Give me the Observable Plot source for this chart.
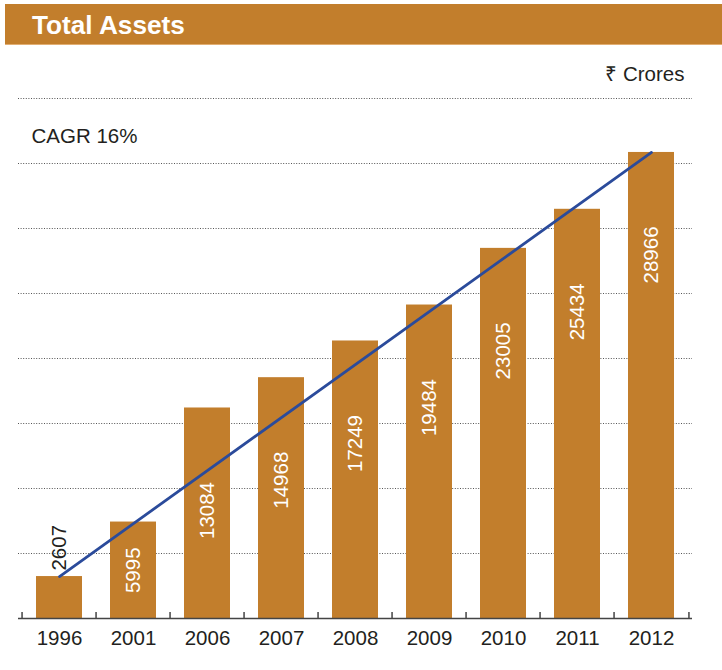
<!DOCTYPE html>
<html><head><meta charset="utf-8">
<script src="https://cdn.jsdelivr.net/npm/d3@7"></script>
<script src="https://cdn.jsdelivr.net/npm/@observablehq/plot@0.6"></script>
<style>
body{margin:0;background:#fff;font-family:"Liberation Sans",Arial,Helvetica,sans-serif;}
#wrap{position:relative;width:722px;height:670px;overflow:hidden;background:#fff;}
#hdr{position:absolute;left:5px;top:4px;width:717px;height:41px;background:#C27E2C;border-bottom:1px solid #E2AE72;box-sizing:border-box;color:#fff;font-weight:bold;font-size:26.2px;line-height:42px;padding-left:27px;overflow:hidden;}
#side{position:absolute;left:5px;top:44px;width:2px;height:626px;background:#E2AE72;}
#chart{position:absolute;left:0;top:45px;}
</style></head><body>
<div id="wrap"><div id="hdr">Total Assets</div><div id="side"></div><div id="chart"></div></div>
<script>
const years = ["1996","2001","2006","2007","2008","2009","2010","2011","2012"];
const values = [2607, 5995, 13084, 14968, 17249, 19484, 23005, 25434, 28966];
const trendYears = ["1996","2012"];
const trendValues = [2607, 28966];
const gridValues = [4040, 8080, 12120, 16160, 20200, 24240, 28280, 32320];
const unitLabel = "₹ Crores";
const cagrLabel = "CAGR 16%";

const table = years.map((y, i) => ({year: y, value: values[i]}));
const trend = trendYears.map((y, i) => ({year: y, value: trendValues[i]}));

const W = 722, H = 625, ML = 18, MR = 30, MT = 53, MB = 52;
const padIn = 0.373;
const step = (W - ML - MR) / years.length;
const barColor = "#C27E2C";
const dark = "#231F20";

const chart = Plot.plot({
  width: W, height: H,
  marginLeft: ML, marginRight: MR, marginTop: MT, marginBottom: MB,
  style: {fontFamily: '"Liberation Sans", Arial, Helvetica, sans-serif', color: dark, background: "#fff"},
  x: {type: "band", domain: years, paddingInner: padIn, paddingOuter: padIn / 2, label: null},
  y: {domain: [0, 32320], axis: null},
  marks: [
    Plot.ruleY(gridValues, {stroke: "#555", strokeWidth: 1, strokeDasharray: "1,1.6"}),
    Plot.barY(table, {x: "year", y: "value", fill: barColor}),
    Plot.ruleY([0], {stroke: "#444", strokeWidth: 1.5}),
    Plot.ruleX(years, {x: d => d, y1: 0, y2: 380, dx: -step / 2, stroke: "#444", strokeWidth: 1.5}),
    Plot.ruleX([years[years.length - 1]], {x: d => d, y1: 0, y2: 380, dx: step / 2, stroke: "#444", strokeWidth: 1.5}),
    Plot.axisX({tickSize: 0, tickPadding: 12, fontSize: 20.5, label: null}),
    Plot.line(trend, {x: "year", y: "value", stroke: "#2B4B9B", strokeWidth: 2.8}),
    Plot.text(table.filter(d => d.value >= 10000), {x: "year", y: "value", text: d => String(d.value), rotate: -90, textAnchor: "end", dy: 74, fill: "white", fontSize: 20.5}),
    Plot.text(table.filter(d => d.value >= 4000 && d.value < 10000), {x: "year", y: d => d.value / 2, text: d => String(d.value), rotate: -90, textAnchor: "middle", fill: "white", fontSize: 20.5}),
    Plot.text(table.filter(d => d.value < 4000), {x: "year", y: "value", text: d => String(d.value), rotate: -90, textAnchor: "start", dy: -6, fill: dark, fontSize: 20.5}),
    Plot.text([unitLabel], {frameAnchor: "top-right", text: d => d, textAnchor: "end", lineAnchor: "top", dx: -8, dy: -32, fontSize: 20.5, fill: dark}),
    Plot.text([cagrLabel], {frameAnchor: "top-left", text: d => d, textAnchor: "start", lineAnchor: "top", dx: 13, dy: 30, fontSize: 20.5, fill: dark})
  ]
});
document.getElementById("chart").appendChild(chart);
</script>
</body></html>
